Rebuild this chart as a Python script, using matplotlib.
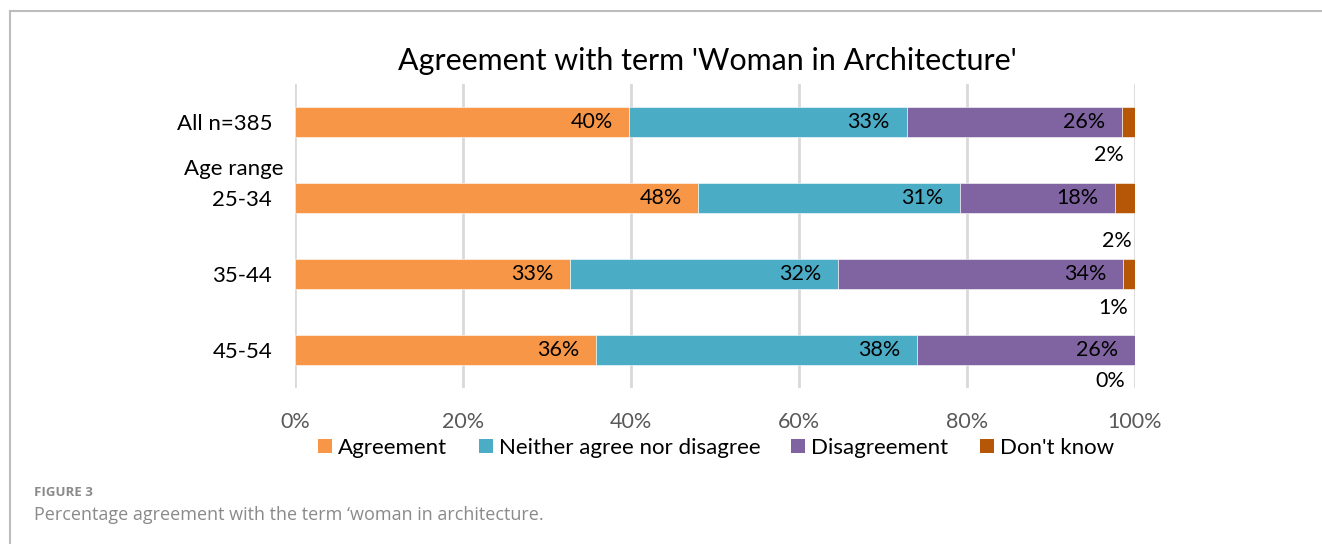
import numpy as np
import matplotlib.pyplot as plt
from matplotlib.patches import Patch
from matplotlib.lines import Line2D

plt.rcParams['font.family'] = ['Lato', 'DejaVu Sans']

# survey responses, percent of each group
groups = ['All n=385', '25-34', '35-44', '45-54']
agreement = [39.8, 48.0, 32.7, 35.8]
neither = [33.0, 31.2, 31.9, 38.3]
disagreement = [25.6, 18.4, 34.0, 25.9]
dont_know = [1.6, 2.4, 1.4, 0.0]

series_names = ['Agreement', 'Neither agree nor disagree', 'Disagreement', "Don't know"]
colors = ['#F79646', '#4BACC6', '#8064A2', '#B65708']

# the small "don't know" labels sit below their bars (offset in points)
dk_offsets = [(-13.7, -23.8), (-5.8, -31.0), (-11.5, -24.5), (-18.0, -22.3)]

fig = plt.figure(figsize=(13.22, 5.44), dpi=100)
ax = fig.add_axes([295 / 1322, 1 - 388 / 544, 840 / 1322, 304 / 544])

y = np.arange(len(groups))
left = np.zeros(len(groups))
series = [agreement, neither, disagreement, dont_know]
for k, (vals, name, col) in enumerate(zip(series, series_names, colors)):
    vals = np.array(vals)
    ax.barh(y, vals, left=left, height=0.395, color=col,
            edgecolor='white', linewidth=0.4, label=name, zorder=3)
    for i, (v, l) in enumerate(zip(vals, left)):
        txt = f'{v:.0f}%'
        if k < 3:
            ax.annotate(txt, (l + v, y[i]), xytext=(-12, 0), textcoords='offset points',
                        ha='right', va='center', fontsize=15.5, color='black', zorder=4)
        else:
            dx, dy = dk_offsets[i]
            ax.annotate(txt, (l + v / 2, y[i]), xytext=(dx, dy), textcoords='offset points',
                        ha='center', va='center', fontsize=15.5, color='black', zorder=4)
    left = left + vals

ax.set_xlim(0, 100)
ax.set_ylim(len(groups) - 0.5, -0.5)
ax.set_xticks(np.arange(0, 101, 20))
ax.set_xticklabels([f'{t}%' for t in range(0, 101, 20)])
ax.set_yticks(y)
ax.set_yticklabels(groups)
ax.tick_params(axis='x', length=0, pad=17, labelsize=15.5, labelcolor='#595959')
ax.tick_params(axis='y', length=0, pad=16.5, labelsize=16, labelcolor='black')
ax.grid(axis='x', color='#D9D9D9', linewidth=2, zorder=0)
for s in ax.spines.values():
    s.set_visible(False)

# group header above the first age band
ax.annotate('Age range', xy=(0, 0.62), xycoords=('axes fraction', 'data'),
            xytext=(-8.5, 0), textcoords='offset points',
            ha='right', va='center', fontsize=16, color='black')

fig.text(707 / 1322, 1 - 61 / 544, "Agreement with term 'Woman in Architecture'",
         ha='center', va='center', fontsize=21.9, color='black')

handles = [Patch(facecolor=c, edgecolor='none') for c in colors]
fig.legend(handles, series_names, loc='center', bbox_to_anchor=(716 / 1322, 1 - 448 / 544),
           ncol=4, frameon=False, fontsize=16, handlelength=0.63, handleheight=0.63,
           handletextpad=0.27, columnspacing=1.4, borderpad=0)

# caption
fig.text(34 / 1322, 1 - 493 / 544, 'FIGURE 3', ha='left', va='center',
         fontsize=9.5, color='#8a8a8a', fontweight='bold', family='Open Sans')
fig.text(34 / 1322, 1 - 515 / 544, "Percentage agreement with the term \u2018woman in architecture.",
         ha='left', va='center', fontsize=13, color='#8a8a8a', family='Open Sans')

# frame lines
fig.add_artist(Line2D([9.5 / 1322, 1], [1 - 11 / 544] * 2, color='#BDBDBD', linewidth=1.5))
fig.add_artist(Line2D([9.5 / 1322] * 2, [0, 1 - 11 / 544], color='#BDBDBD', linewidth=1.5))

fig.savefig('out.png', dpi=100)
